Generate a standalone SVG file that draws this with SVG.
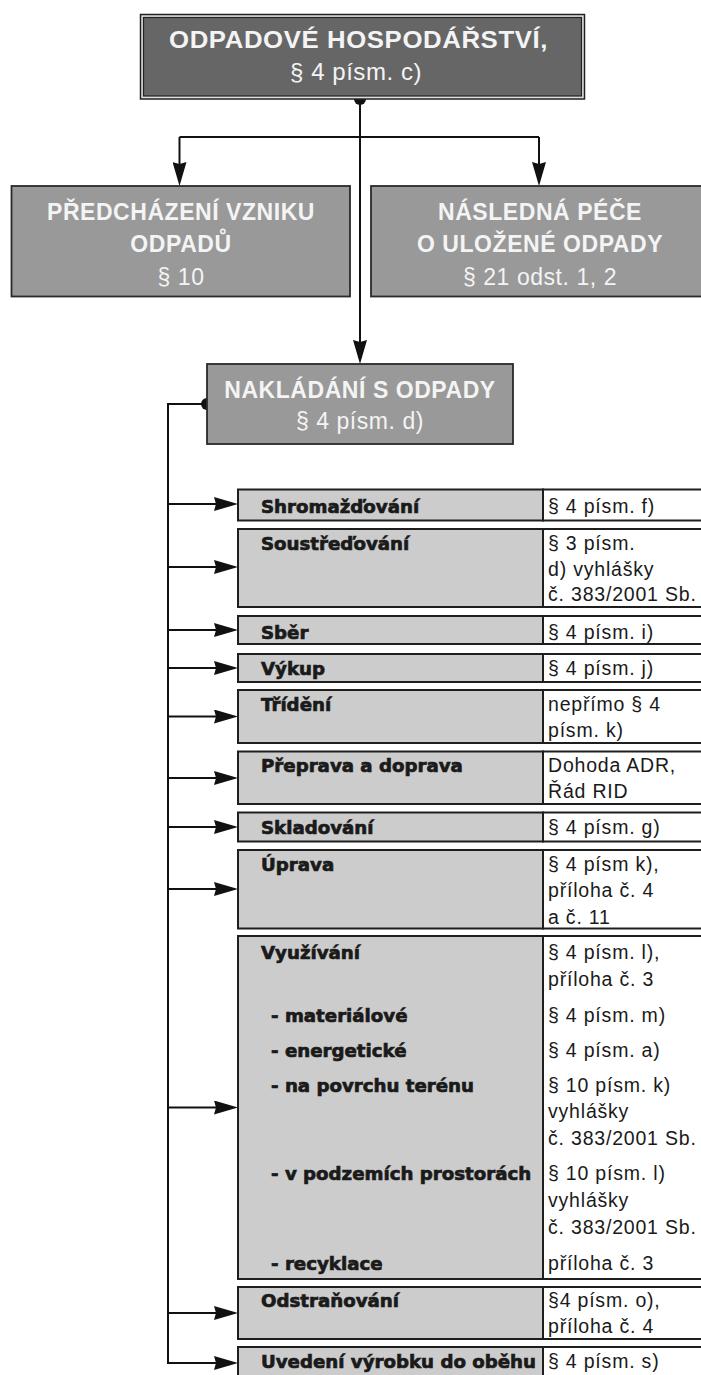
<svg xmlns="http://www.w3.org/2000/svg" width="701" height="1375" viewBox="0 0 701 1375">
<style>
.hdr{font-family:"Liberation Sans",Arial,Helvetica,sans-serif;fill:#f4f4f4;text-anchor:middle;letter-spacing:0.55px}
.hb{font-weight:bold;font-size:23px}
.hr{font-size:23px}
.box{fill:#999999;stroke:#2a2a2a;stroke-width:1.8}
.cell{fill:#cccccc;stroke:#1e1e1e;stroke-width:2}
.val{fill:#ffffff;stroke:#1e1e1e;stroke-width:2}
.lbl{font-family:"DejaVu Sans",Verdana,sans-serif;font-weight:bold;font-size:18.2px;fill:#1a1a1a;stroke:#1a1a1a;stroke-width:0.7px}
.v{font-family:"Liberation Sans",Arial,Helvetica,sans-serif;font-size:19.5px;fill:#1a1a1a;letter-spacing:0.8px}
.con{fill:none;stroke:#111111;stroke-width:2}
.arr{fill:none;stroke:#111111;stroke-width:2;marker-end:url(#ah)}
.dot{fill:#111111}
</style>
<defs>
<marker id="ah" markerUnits="userSpaceOnUse" viewBox="0 0 24 14" refX="18" refY="7" markerWidth="24" markerHeight="14" orient="auto">
<path d="M0,0 L24,7 L0,14 L2,7 z" fill="#111111"/>
</marker>
</defs>
<rect width="701" height="1375" fill="#ffffff"/>

<g id="connectors">
<circle class="dot" cx="360" cy="99" r="6"/>
<path class="arr" d="M360,99 V358"/>
<path class="con" d="M179.5,137 H539"/>
<path class="arr" d="M179.5,137 V180"/>
<path class="arr" d="M539,137 V180"/>
<circle class="dot" cx="207" cy="404" r="6"/>
<path class="con" d="M207,404 H168 V1363"/>
<path class="arr" d="M168,504 H232"/>
<path class="arr" d="M168,567 H232"/>
<path class="arr" d="M168,630 H232"/>
<path class="arr" d="M168,668 H232"/>
<path class="arr" d="M168,716.5 H232"/>
<path class="arr" d="M168,778 H232"/>
<path class="arr" d="M168,827 H232"/>
<path class="arr" d="M168,889 H232"/>
<path class="arr" d="M168,1107.5 H232"/>
<path class="arr" d="M168,1313 H232"/>
<path class="arr" d="M167,1363 H232"/>
</g>

<g id="odpadove-hospodarstvi">
<rect x="140.5" y="14.5" width="444" height="84.5" fill="#dddddd" stroke="#222222" stroke-width="1.5"/>
<rect x="143.5" y="17.5" width="438" height="78.5" fill="#666666" stroke="#222222" stroke-width="1.2"/>
<text class="hdr" x="358.5" y="48" font-weight="bold" font-size="24" textLength="379" lengthAdjust="spacingAndGlyphs">ODPADOVÉ HOSPODÁŘSTVÍ,</text>
<text class="hdr" x="356" y="80" font-size="24" letter-spacing="1">§ 4 písm. c)</text>
</g>

<g id="predchazeni">
<rect class="box" x="11.5" y="186" width="338.5" height="110.5"/>
<text class="hdr hb" x="181" y="220">PŘEDCHÁZENÍ VZNIKU</text>
<text class="hdr hb" x="181" y="252">ODPADŮ</text>
<text class="hdr hr" x="181" y="285">§ 10</text>
</g>

<g id="nasledna-pece">
<rect class="box" x="371" y="186" width="345" height="110.5"/>
<text class="hdr hb" x="540" y="220">NÁSLEDNÁ PÉČE</text>
<text class="hdr hb" x="540" y="252">O ULOŽENÉ ODPADY</text>
<text class="hdr hr" x="540" y="285">§ 21 odst. 1, 2</text>
</g>

<g id="nakladani">
<rect class="box" x="207" y="364" width="306" height="80"/>
<text class="hdr hb" x="360" y="398">NAKLÁDÁNÍ S ODPADY</text>
<text class="hdr hr" x="360" y="429">§ 4 písm. d)</text>
</g>

<g id="shromazdovani">
<rect class="cell" x="238" y="489.5" width="305" height="31"/>
<rect class="val" x="543" y="489.5" width="180" height="31"/>
<text class="lbl" x="261" y="513">Shromažďování</text>
<text class="v" x="548" y="513">§ 4 písm. f)</text>
</g>

<g id="soustredovani">
<rect class="cell" x="238" y="529" width="305" height="78"/>
<rect class="val" x="543" y="529" width="180" height="78"/>
<text class="lbl" x="261" y="550">Soustřeďování</text>
<text class="v" x="548" y="550">§ 3 písm.</text>
<text class="v" x="548" y="575.5">d) vyhlášky</text>
<text class="v" x="548" y="601">č. 383/2001 Sb.</text>
</g>

<g id="sber">
<rect class="cell" x="238" y="616" width="305" height="28"/>
<rect class="val" x="543" y="616" width="180" height="28"/>
<text class="lbl" x="261" y="638.5">Sběr</text>
<text class="v" x="548" y="638.5">§ 4 písm. i)</text>
</g>

<g id="vykup">
<rect class="cell" x="238" y="654" width="305" height="28"/>
<rect class="val" x="543" y="654" width="180" height="28"/>
<text class="lbl" x="261" y="674.5">Výkup</text>
<text class="v" x="548" y="674.5">§ 4 písm. j)</text>
</g>

<g id="trideni">
<rect class="cell" x="238" y="690" width="305" height="53"/>
<rect class="val" x="543" y="690" width="180" height="53"/>
<text class="lbl" x="261" y="710.5">Třídění</text>
<text class="v" x="548" y="710.5">nepřímo § 4</text>
<text class="v" x="548" y="737">písm. k)</text>
</g>

<g id="preprava">
<rect class="cell" x="238" y="751.5" width="305" height="52.5"/>
<rect class="val" x="543" y="751.5" width="180" height="52.5"/>
<text class="lbl" x="261" y="772">Přeprava a doprava</text>
<text class="v" x="548" y="772">Dohoda ADR,</text>
<text class="v" x="548" y="798.3">Řád RID</text>
</g>

<g id="skladovani">
<rect class="cell" x="238" y="812.5" width="305" height="29"/>
<rect class="val" x="543" y="812.5" width="180" height="29"/>
<text class="lbl" x="261" y="834">Skladování</text>
<text class="v" x="548" y="834">§ 4 písm. g)</text>
</g>

<g id="uprava">
<rect class="cell" x="238" y="850" width="305" height="78.5"/>
<rect class="val" x="543" y="850" width="180" height="78.5"/>
<text class="lbl" x="261" y="870.5">Úprava</text>
<text class="v" x="548" y="870.5">§ 4 písm k),</text>
<text class="v" x="548" y="897">příloha č. 4</text>
<text class="v" x="548" y="923.5">a č. 11</text>
</g>

<g id="vyuzivani">
<rect class="cell" x="238" y="936" width="305" height="343"/>
<rect class="val" x="543" y="936" width="180" height="343"/>
<text class="lbl" x="261" y="959">Využívání</text>
<text class="v" x="548" y="959">§ 4 písm. l),</text>
<text class="v" x="548" y="985.5">příloha č. 3</text>
<text class="lbl" x="271" y="1021.5">- materiálové</text>
<text class="v" x="548" y="1021.5">§ 4 písm. m)</text>
<text class="lbl" x="271" y="1056.5">- energetické</text>
<text class="v" x="548" y="1056.5">§ 4 písm. a)</text>
<text class="lbl" x="271" y="1091.7">- na povrchu terénu</text>
<text class="v" x="548" y="1091.7">§ 10 písm. k)</text>
<text class="v" x="548" y="1118.3">vyhlášky</text>
<text class="v" x="548" y="1145">č. 383/2001 Sb.</text>
<text class="lbl" x="271" y="1180">- v podzemích prostorách</text>
<text class="v" x="548" y="1180">§ 10 písm. l)</text>
<text class="v" x="548" y="1206.7">vyhlášky</text>
<text class="v" x="548" y="1233.5">č. 383/2001 Sb.</text>
<text class="lbl" x="271" y="1270">- recyklace</text>
<text class="v" x="548" y="1270">příloha č. 3</text>
</g>

<g id="odstranovani">
<rect class="cell" x="238" y="1287" width="305" height="52"/>
<rect class="val" x="543" y="1287" width="180" height="52"/>
<text class="lbl" x="261" y="1306.7">Odstraňování</text>
<text class="v" x="548" y="1306.7">§4 písm. o),</text>
<text class="v" x="548" y="1333.3">příloha č. 4</text>
</g>

<g id="uvedeni">
<rect class="cell" x="238" y="1347" width="305" height="40"/>
<rect class="val" x="543" y="1347" width="180" height="40"/>
<text class="lbl" x="261" y="1367.5">Uvedení výrobku do oběhu</text>
<text class="v" x="548" y="1367.5">§ 4 písm. s)</text>
</g>
</svg>
